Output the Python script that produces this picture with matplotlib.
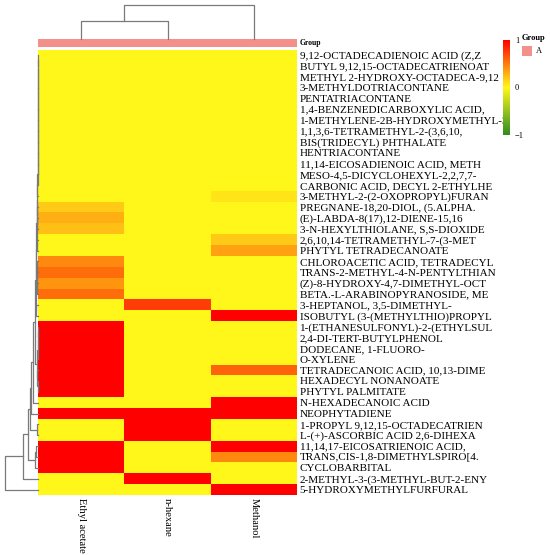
import numpy as np
import matplotlib
matplotlib.use("Agg")
import matplotlib.pyplot as plt
from matplotlib.colors import LinearSegmentedColormap, ListedColormap

plt.rcParams['font.family'] = ['Liberation Serif', 'DejaVu Serif']

compounds = [
    "9,12-OCTADECADIENOIC ACID (Z,Z",
    "BUTYL 9,12,15-OCTADECATRIENOAT",
    "METHYL 2-HYDROXY-OCTADECA-9,12",
    "3-METHYLDOTRIACONTANE",
    "PENTATRIACONTANE",
    "1,4-BENZENEDICARBOXYLIC ACID,",
    "1-METHYLENE-2B-HYDROXYMETHYL-3",
    "1,1,3,6-TETRAMETHYL-2-(3,6,10,",
    "BIS(TRIDECYL) PHTHALATE",
    "HENTRIACONTANE",
    "11,14-EICOSADIENOIC ACID, METH",
    "MESO-4,5-DICYCLOHEXYL-2,2,7,7-",
    "CARBONIC ACID, DECYL 2-ETHYLHE",
    "3-METHYL-2-(2-OXOPROPYL)FURAN",
    "PREGNANE-18,20-DIOL, (5.ALPHA.",
    "(E)-LABDA-8(17),12-DIENE-15,16",
    "3-N-HEXYLTHIOLANE, S,S-DIOXIDE",
    "2,6,10,14-TETRAMETHYL-7-(3-MET",
    "PHYTYL TETRADECANOATE",
    "CHLOROACETIC ACID, TETRADECYL",
    "TRANS-2-METHYL-4-N-PENTYLTHIAN",
    "(Z)-8-HYDROXY-4,7-DIMETHYL-OCT",
    "BETA.-L-ARABINOPYRANOSIDE, ME",
    "3-HEPTANOL, 3,5-DIMETHYL-",
    "ISOBUTYL (3-(METHYLTHIO)PROPYL",
    "1-(ETHANESULFONYL)-2-(ETHYLSUL",
    "2,4-DI-TERT-BUTYLPHENOL",
    "DODECANE, 1-FLUORO-",
    "O-XYLENE",
    "TETRADECANOIC ACID, 10,13-DIME",
    "HEXADECYL NONANOATE",
    "PHYTYL PALMITATE",
    "N-HEXADECANOIC ACID",
    "NEOPHYTADIENE",
    "1-PROPYL 9,12,15-OCTADECATRIEN",
    "L-(+)-ASCORBIC ACID 2,6-DIHEXA",
    "11,14,17-EICOSATRIENOIC ACID,",
    "TRANS,CIS-1,8-DIMETHYLSPIRO[4.",
    "CYCLOBARBITAL",
    "2-METHYL-3-(3-METHYL-BUT-2-ENY",
    "5-HYDROXYMETHYLFURFURAL",
]

samples = ["Ethyl acetate", "n-hexane", "Methanol"]

ethyl_acetate = [0, 0, 0, 0, 0, 0, 0, 0, 0, 0, 0, 0, 0,
                 0, 0.18, 0.29, 0.23, 0, 0, 0.45, 0.56, 0.40, 0.56,
                 0, 0, 1, 1, 1, 1, 1, 1, 1, 0, 1, 0, 0, 1, 1, 1, 0, 0]
n_hexane = [0, 0, 0, 0, 0, 0, 0, 0, 0, 0, 0, 0, 0,
            0, 0, 0, 0, 0, 0, 0, 0, 0, 0,
            0.75, 0, 0, 0, 0, 0, 0, 0, 0, 0, 1, 1, 1, 0, 0, 0, 1, 0]
methanol = [0, 0, 0, 0, 0, 0, 0, 0, 0, 0, 0, 0, 0,
            0.08, 0, 0, 0, 0.18, 0.35, 0, 0, 0, 0,
            0, 1, 0, 0, 0, 0, 0.6, 0, 0, 1, 1, 0, 0, 1, 0.45, 0, 0, 1]

group_labels = ["A", "A", "A"]

# row dendrogram merges (scipy-like: a, b, height); ids >= 41 are earlier merges
row_linkage = [
    (0, 1, 0.0), (41, 2, 0.0), (42, 3, 0.0), (43, 4, 0.0), (44, 5, 0.0),
    (45, 6, 0.0), (46, 7, 0.0), (47, 8, 0.0), (48, 9, 0.0), (49, 10, 0.0),
    (50, 11, 0.0), (51, 12, 0.0), (52, 13, 0.01),
    (15, 16, 0.01), (14, 54, 0.015), (53, 55, 0.02),
    (17, 18, 0.015), (56, 57, 0.03),
    (19, 20, 0.01), (21, 22, 0.015), (59, 60, 0.02), (58, 61, 0.04),
    (23, 24, 0.05), (62, 63, 0.06),
    (25, 26, 0.0), (65, 27, 0.0), (66, 28, 0.0), (30, 31, 0.0), (29, 68, 0.02),
    (67, 69, 0.025),
    (64, 70, 0.08), (71, 32, 0.15), (72, 33, 0.2),
    (34, 35, 0.03), (73, 74, 0.24),
    (36, 37, 0.04), (76, 38, 0.08),
    (75, 77, 0.29), (78, 39, 0.45), (79, 40, 1.0),
]
col_linkage = [(0, 1, 0.54), (3, 2, 1.0)]

W, H = 550, 555
fig = plt.figure(figsize=(W / 100, H / 100), dpi=100)


def rect(x0, y0, x1, y1):
    return [x0 / W, 1 - y1 / H, (x1 - x0) / W, (y1 - y0) / H]


cmap = LinearSegmentedColormap.from_list(
    "gyr", ["#2E8B20", "#FFF81A", "#FF0000"], N=256)

data = np.column_stack([ethyl_acetate, n_hexane, methanol])
n_rows, n_cols = data.shape

hx0, hx1, hy0, hy1 = 38, 297, 49.5, 495
ax = fig.add_axes(rect(hx0, hy0, hx1, hy1))
ax.pcolormesh(np.arange(n_cols + 1), np.arange(n_rows + 1), data,
              cmap=cmap, vmin=-1, vmax=1, edgecolors='none')
ax.set_xlim(0, n_cols)
ax.set_ylim(n_rows, 0)
for s in ax.spines.values():
    s.set_visible(False)
ax.yaxis.tick_right()
ax.set_yticks(np.arange(n_rows) + 0.5)
ax.set_yticklabels(compounds, fontsize=8)
ax.set_xticks(np.arange(n_cols) + 0.5)
ax.set_xticklabels(samples, rotation=-90, fontsize=7.6, va='top', ha='center')
ax.tick_params(length=0, pad=2)

# group annotation bar
gax = fig.add_axes(rect(hx0, 39.3, hx1, 46.7))
gcolors = {"A": "#F4908A"}
gax.pcolormesh(np.arange(n_cols + 1), [0, 1],
               np.zeros((1, n_cols)), cmap=ListedColormap([gcolors[g] for g in group_labels[:1]]),
               edgecolors='none')
gax.set_xlim(0, n_cols)
gax.set_xticks([])
gax.set_yticks([])
for s in gax.spines.values():
    s.set_visible(False)
gax.text(1.01, 0.5, "Group", transform=gax.transAxes, fontsize=5.5,
         fontweight='bold', va='center', ha='left')

line_kw = dict(color="#7A7A7A", lw=0.9, clip_on=False)


def draw_tree(axd, Z, n, vertical_leaves):
    pos = {i: i + 0.5 for i in range(n)}
    hgt = {i: 0.0 for i in range(n)}
    for k, (a, b, h) in enumerate(Z):
        pa, pb = pos[a], pos[b]
        ha, hb = hgt[a], hgt[b]
        if vertical_leaves:
            axd.plot([ha, h, h, hb], [pa, pa, pb, pb], **line_kw)
        else:
            axd.plot([pa, pa, pb, pb], [ha, h, h, hb], **line_kw)
        pos[n + k] = (pa + pb) / 2
        hgt[n + k] = h


# row dendrogram
rax = fig.add_axes(rect(0, hy0, hx0 - 0.3, hy1))
draw_tree(rax, row_linkage, n_rows, True)
rax.set_ylim(n_rows, 0)
rax.set_xlim((hx0 - 0.3) / (hx0 - 0.3 - 4.7), 0)
rax.axis('off')

# column dendrogram
cax_d = fig.add_axes(rect(hx0, 5, hx1, 39.3))
draw_tree(cax_d, col_linkage, n_cols, False)
cax_d.set_xlim(0, n_cols)
cax_d.set_ylim(0, 1.0)
cax_d.axis('off')

# colorbar
cbax = fig.add_axes(rect(503, 40, 510, 135))
sm = plt.cm.ScalarMappable(cmap=cmap, norm=plt.Normalize(-1, 1))
cb = fig.colorbar(sm, cax=cbax, ticks=[-1, 0, 1])
cb.ax.set_yticklabels(["\u22121", "0", "1"])
cb.outline.set_visible(False)
cb.ax.tick_params(labelsize=6, length=1.5, width=0.5, pad=2, color='white')

# group legend
fig.text(522 / W, 1 - 38 / H, "Group", fontsize=6, fontweight='bold',
         ha='left', va='center')
fig.patches.append(plt.Rectangle((522 / W, 1 - 56 / H), 10 / W, 10 / H,
                                 transform=fig.transFigure,
                                 facecolor=gcolors["A"], edgecolor='none'))
fig.text(536 / W, 1 - 51 / H, "A", fontsize=6, ha='left', va='center')

fig.savefig("out.png", dpi=100)
